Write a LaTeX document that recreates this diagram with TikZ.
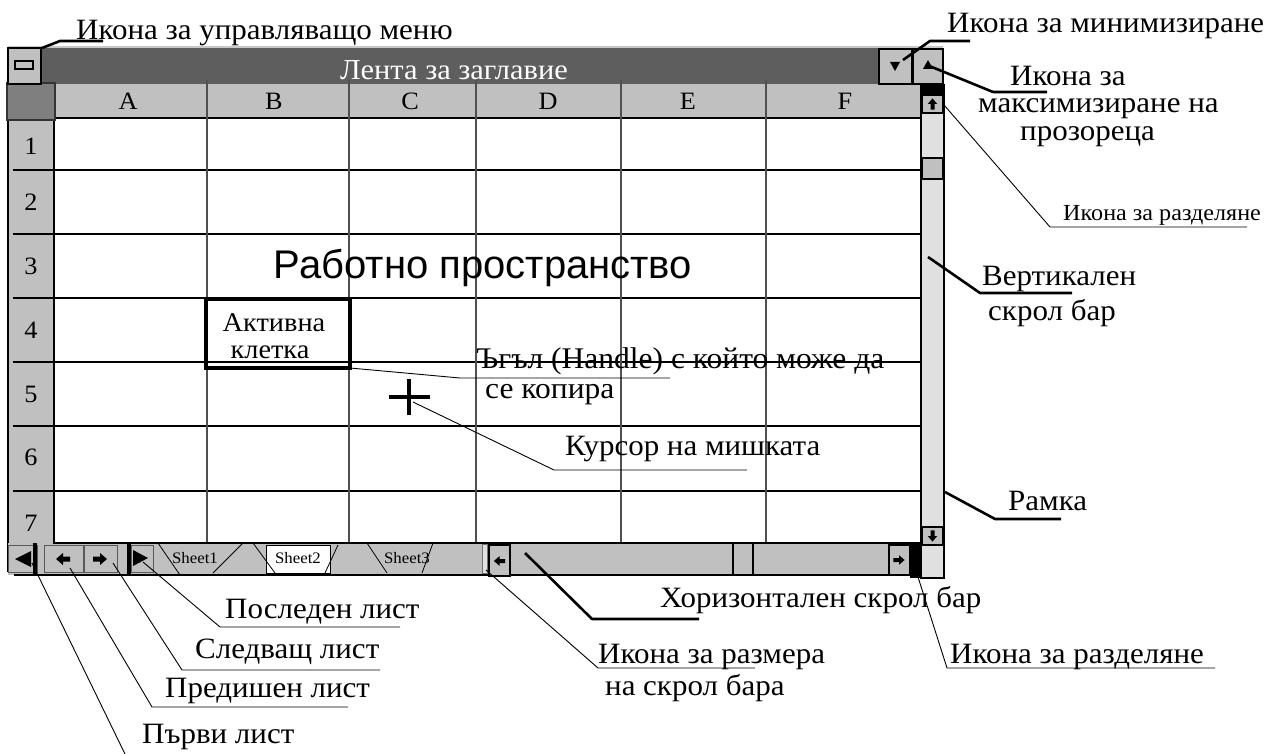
\documentclass[tikz,border=0pt]{standalone}
\usepackage{fontspec}
\setmainfont{Liberation Serif}[FakeStretch=1.05]
\newfontfamily\sansfam{Liberation Sans}
\definecolor{titlegray}{HTML}{5E5E5E}
\definecolor{hdrgray}{HTML}{C0C0C0}
\definecolor{cornergray}{HTML}{7F7F7F}
\definecolor{trackgray}{HTML}{E0E0E0}
\definecolor{gridgray}{HTML}{505050}
\definecolor{edgelight}{HTML}{C8C8C8}
\newcommand\fsz[1]{\fontsize{#1}{#1}\selectfont}

\begin{document}
\begin{tikzpicture}[x=1pt,y=-1pt,
  lbl/.style={inner sep=0pt, anchor=base west, font=\fsz{29.5}},
  lblsmall/.style={lbl, font=\fsz{23}},
  hdr/.style={inner sep=0pt, font=\fsz{25}},
  tabtxt/.style={inner sep=0pt, font=\fsz{16}},
  thinlead/.style={line width=0.9pt},
  thicklead/.style={line width=2.6pt, line join=round},
  btnbox/.style={fill=hdrgray, draw=black, line width=2pt},
  navbox/.style={fill=hdrgray, draw=black!65, line width=1pt},
  rowline/.style={line width=1.1pt, black},
  colline/.style={line width=1.3pt, gridgray},
  tabline/.style={line width=0.8pt},
  larrow/.pic={\fill (-7,0) -- (0,-6) -- (0,-2.5) -- (7,-2.5) -- (7,2.5) -- (0,2.5) -- (0,6) -- cycle;},
  rarrow/.pic={\fill (7,0) -- (0,-6) -- (0,-2.5) -- (-7,-2.5) -- (-7,2.5) -- (0,2.5) -- (0,6) -- cycle;},
  uarrow/.pic={\fill (0,-7) -- (-6,0) -- (-2.5,0) -- (-2.5,7) -- (2.5,7) -- (2.5,0) -- (6,0) -- cycle;},
  darrow/.pic={\fill (0,7) -- (-6,0) -- (-2.5,0) -- (-2.5,-7) -- (2.5,-7) -- (2.5,0) -- (6,0) -- cycle;},
]
\path[use as bounding box, fill=white] (0,0) rectangle (1268,754);

% ---------- title bar ----------
\fill[titlegray] (8,48) rectangle (943,84);
\draw[edgelight, line width=2pt] (8,47) -- (943,47);

% ---------- column header and row header ----------
\fill[hdrgray] (55,84) rectangle (920,118);
\draw[line width=1.5pt] (55,118) -- (920,118);
\fill[hdrgray] (8,118) rectangle (54,543);
\draw[line width=1.2pt] (8,118) -- (8,572);
\draw[line width=1.2pt] (54,118) -- (54,543);
\filldraw[fill=cornergray, draw=black!80, line width=1.2pt] (7,83) rectangle (55,120);

% ---------- grid ----------
\foreach \yy in {170,234,298,362,426,491}
  \draw[rowline] (13,\yy) -- (925,\yy);
\foreach \xx in {207,349,476,621,766}
  \draw[colline] (\xx,80) -- (\xx,545);

\node[hdr] (colA) at (128,101) {A};
\node[hdr] (colB) at (274,101) {B};
\node[hdr] (colC) at (410,101) {C};
\node[hdr] (colD) at (548,101) {D};
\node[hdr] (colE) at (688,101) {E};
\node[hdr] (colF) at (845,101) {F};

\node[hdr] (row1) at (31,146) {1};
\node[hdr] (row2) at (31,202) {2};
\node[hdr] (row3) at (31,266) {3};
\node[hdr] (row4) at (31,330) {4};
\node[hdr] (row5) at (31,394) {5};
\node[hdr] (row6) at (31,457) {6};
\node[hdr] (row7) at (31,523) {7};

% ---------- window buttons ----------
\filldraw[btnbox] (8,48) rectangle (41,84);
\filldraw[fill=hdrgray, draw=black, line width=2.2pt] (15,61) rectangle (33,69);
\filldraw[btnbox] (879,49) rectangle (912,84);
\fill (890,62) -- (900,62) -- (895,71) -- cycle;
\filldraw[btnbox] (913,49) rectangle (943,84);
\fill (923,69) -- (933,69) -- (928,60) -- cycle;

\node[inner sep=0pt, anchor=base west, text=white, font=\fsz{29}] (title) at (340,80) {Лента за заглавие};

% ---------- vertical scroll bar ----------
\filldraw[fill=trackgray, draw=black, line width=2.2pt] (921,85) rectangle (944,578);
\fill (920,84) rectangle (945,95);
\filldraw[fill=hdrgray, draw=black, line width=1.8pt] (922,95) rectangle (943,113);
\pic[scale=0.8] at (932.5,104) {uarrow};
\filldraw[fill=hdrgray, draw=black, line width=2.6pt] (922,158) rectangle (943,179);
\filldraw[fill=hdrgray, draw=black, line width=1.8pt] (922,527) rectangle (943,545);
\pic[scale=0.8] at (932.5,536) {darrow};

% ---------- sheet tabs and horizontal scroll bar ----------
\fill[hdrgray] (8,543) rectangle (921,575);
\draw[line width=2.5pt] (53,543) -- (921,543);
\draw[line width=2.5pt] (14,575) -- (921,575);

\filldraw[navbox] (8,545) rectangle (37,572);
\fill (15,559) -- (31,551) -- (31,567) -- cycle;
\fill (33,543) rectangle (37,576);
\filldraw[navbox] (44,545) rectangle (83,572);
\pic at (63,559) {larrow};
\filldraw[navbox] (84,545) rectangle (117,572);
\pic at (100,559) {rarrow};
\fill (127,543) rectangle (131,576);
\filldraw[navbox] (131,545) rectangle (153,572);
\fill (133,550) -- (148,558) -- (133,566) -- cycle;

\filldraw[fill=white, draw=black, line width=0.8pt] (266,545) rectangle (330,573);
\draw[tabline] (158,543) -- (180,575);
\draw[tabline] (213,573) -- (243,543);
\draw[tabline] (253,543) -- (275,573);
\draw[tabline] (325,573) -- (338,545);
\draw[tabline] (367,543) -- (387,573);
\draw[tabline] (422,573) -- (433,543);
\node[tabtxt] (sheet1) at (195,558) {Sheet1};
\node[tabtxt] (sheet2) at (298,558) {Sheet2};
\node[tabtxt] (sheet3) at (407,558) {Sheet3};

\filldraw[fill=black!12, draw=black!55, line width=0.8pt] (482,544) rectangle (487,573);
\filldraw[fill=hdrgray, draw=black, line width=2.5pt] (489,545) rectangle (510,576);
\pic[scale=0.8] at (499.5,561) {larrow};
\filldraw[fill=hdrgray, draw=black, line width=2.5pt] (733,543) rectangle (753,575);
\filldraw[fill=hdrgray, draw=black, line width=1.8pt] (889,545) rectangle (910,575);
\pic[scale=0.8] at (899,560) {rarrow};
\fill (910,542) rectangle (922,578);

% ---------- work area ----------
\draw[line width=4pt] (206,299) rectangle (350,368);
\node[inner sep=0pt, anchor=base, font=\fsz{27}] (act1) at (274,331) {Активна};
\node[inner sep=0pt, anchor=base, font=\fsz{27}] (act2) at (270,358) {клетка};
\draw[line width=4.5pt] (389,397) -- (430,397);
\draw[line width=4.5pt] (409,379) -- (409,415);
\node[inner sep=0pt, font=\sansfam\fsz{40}] (work) at (483,268) {Работно пространство};

% ---------- labels ----------
\node[lbl] (menu) at (76,40) {Икона за управляващо меню};
\draw[thicklead] (42,48) -- (60,41) -- (103,41);

\node[lbl] (mini) at (947,33) {Икона за минимизиране};
\draw[thicklead] (903,60) -- (930,41) -- (970,41);

\node[lbl] (maxi1) at (1010,86) {Икона за};
\node[lbl] (maxi2) at (978,113) {максимизиране на};
\node[lbl] (maxi3) at (1020,141) {прозореца};
\draw[thicklead] (927,65) -- (993,92) -- (1047,92);

\node[lblsmall] (splitv) at (1063,220) {Икона за разделяне};
\draw[thinlead] (944,105) -- (1050,227) -- (1247,227);

\node[lbl] (vbar1) at (982,285) {Вертикален};
\node[lbl] (vbar2) at (988,320) {скрол бар};
\draw[thicklead] (928,257) -- (980,293) -- (1072,293);

\node[lbl] (frame) at (1008,510) {Рамка};
\draw[thicklead] (945,492) -- (995,519) -- (1061,519);

\node[lbl] (hbar) at (660,607) {Хоризонтален скрол бар};
\draw[thicklead] (525,553) -- (592,619) -- (699,619);

\node[lbl] (size1) at (598,663) {Икона за размера};
\node[lbl] (size2) at (605,695) {на скрол бара};
\draw[thinlead] (486,570) -- (598,668) -- (755,668);

\node[lbl] (splith) at (950,663) {Икона за разделяне};
\draw[thinlead] (918,577) -- (947,668) -- (1215,668);

\node[lbl] (last) at (225,618) {Последен лист};
\draw[thinlead] (143,562) -- (220,627) -- (400,627);

\node[lbl] (next) at (195,658) {Следващ лист};
\draw[thinlead] (113,563) -- (182,670) -- (380,670);

\node[lbl] (prev) at (165,697) {Предишен лист};
\draw[thinlead] (70,568) -- (152,707) -- (348,707);

\node[lbl] (first) at (142,743) {Първи лист};
\draw[thinlead] (32,563) -- (125,754);

\node[lbl, font=\fsz{30}] (handle1) at (476,368) {Ъгъл (Handle) с който може да};
\node[lbl, font=\fsz{30}] (handle2) at (485,398) {се копира};
\draw[thinlead] (350,368) -- (460,378) -- (670,378);

\node[lbl] (cursor) at (565,455) {Курсор на мишката};
\draw[thinlead] (413,402) -- (554,470) -- (747,470);

\end{tikzpicture}
\end{document}
